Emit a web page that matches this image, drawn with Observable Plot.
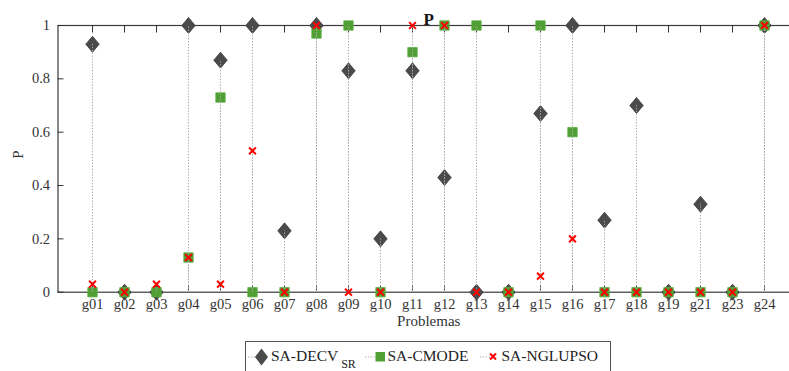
<!DOCTYPE html>
<html>
<head>
<meta charset="utf-8">
<script src="https://cdn.jsdelivr.net/npm/d3@7"></script>
<script src="https://cdn.jsdelivr.net/npm/@observablehq/plot@0.6"></script>
<style>
  html, body { margin: 0; padding: 0; background: #fff; overflow: hidden; }
  #chart { position: relative; width: 789px; height: 371px; overflow: hidden; font-family: "Liberation Serif", serif; }
  #chart svg.plot { position: absolute; left: 0; top: 0; max-width: none !important; }
  #chart svg.plot text { font-family: "Liberation Serif", serif; }
  #legend { position: absolute; left: 245px; top: 341px; }
  #legend text { font-family: "Liberation Serif", serif; }
</style>
</head>
<body>
<div id="chart"></div>
<script>
// Problems on the x axis
const categories = ["g01","g02","g03","g04","g05","g06","g07","g08","g09","g10","g11",
                    "g12","g13","g14","g15","g16","g17","g18","g19","g21","g23","g24"];

// Success rate P per algorithm
const decvSR  = [0.93,0,0,1,0.87,1,0.23,1,0.83,0.20,0.83,0.43,0,0,0.67,1,0.27,0.70,0,0.33,0,1];
const cmode   = [0,0,0,0.13,0.73,0,0,0.97,1,0,0.90,1,1,0,1,0.60,0,0,0,0,0,1];
const nglupso = [0.03,0,0.03,0.13,0.03,0.53,0,1,0,0,1,1,0,0,0.06,0.20,0,0,0,0,0,1];

const yTicks = [0, 0.2, 0.4, 0.6, 0.8, 1];
const seriesNames = ["SA-DECV", "SA-CMODE", "SA-NGLUPSO"];
const titleText = "P";
const xLabel = "Problemas";
const yLabel = "P";

const rowsOf = (vals, name) => categories.map((c, i) => ({problem: c, p: vals[i], series: name}));
const rowsDecv = rowsOf(decvSR, seriesNames[0]);
const rowsCmode = rowsOf(cmode, seriesNames[1]);
const rowsNg = rowsOf(nglupso, seriesNames[2]);

// Diamond slightly taller than wide
const tallDiamond = {
  draw(ctx, size) {
    const h = Math.sqrt(size / Math.PI);
    const w = h * 0.84;
    ctx.moveTo(0, -h); ctx.lineTo(w, 0); ctx.lineTo(0, h); ctx.lineTo(-w, 0); ctx.closePath();
  }
};

const W = 799, H = 340, mL = 57.5, mT = 25, mB = 48.3;
const plotH = H - mT - mB;
const plotW = W - mL;

const font = "Liberation Serif, serif";
const diamondFill = "#4a4a4a";
const green = "#4f9f34";
const red = "#ff0000";
const stemStyle = {stroke: "#a8a8a8", strokeWidth: 1, strokeDasharray: "1.3,1.6"};

const stems = rows => Plot.ruleX(rows, {x: "problem", y1: 0, y2: "p", ...stemStyle});

const chart = Plot.plot({
  width: W, height: H,
  marginLeft: mL, marginRight: 0, marginTop: mT, marginBottom: mB,
  x: {type: "point", domain: categories, padding: 1},
  y: {domain: [0, 1]},
  style: {fontFamily: font, fontSize: "14.5px", color: "#333", background: "transparent", overflow: "visible", maxWidth: "none"},
  marks: [
    Plot.frame({stroke: "#3a3a3a", strokeWidth: 1.2}),
    // inward ticks
    Plot.tickX(categories, {x: d => d, insetBottom: plotH - 7.5, stroke: "#333"}),
    Plot.tickX(categories, {x: d => d, insetTop: plotH - 6, stroke: "#333"}),
    Plot.tickY(yTicks, {y: d => d, insetRight: plotW - 6, stroke: "#333"}),
    Plot.axisX({tickSize: 0, tickPadding: 7, label: null, fontSize: 14.5, fill: "#333"}),
    Plot.axisY({ticks: yTicks, tickSize: 0, tickPadding: 8, tickFormat: d => String(d), label: null, fontSize: 14.5, fill: "#333"}),
    // markers and stems
    Plot.dot(rowsDecv, {x: "problem", y: "p", symbol: tallDiamond, r: 8, fill: diamondFill, stroke: "#3c3c3c", strokeWidth: 0.8}),
    Plot.dot(rowsCmode, {x: "problem", y: "p", symbol: "square", r: 5.3, fill: green, stroke: "#5cae42", strokeWidth: 0.8}),
    stems(rowsDecv),
    stems(rowsCmode),
    stems(rowsNg),
    Plot.dot(rowsNg, {x: "problem", y: "p", symbol: "times", r: 3.2, stroke: red, strokeWidth: 2}),
    // title and axis labels
    Plot.text([titleText], {frameAnchor: "top", dy: -12.5, fontWeight: "bold", fontSize: 17, fill: "#111"}),
    Plot.text([xLabel], {frameAnchor: "bottom", dy: 34, fontSize: 15, fill: "#333"}),
    Plot.text([yLabel], {frameAnchor: "left", dx: -39.5, rotate: -90, fontSize: 15, fill: "#333"})
  ]
});
chart.classList.add("plot");
chart.setAttribute("width", W);
document.getElementById("chart").appendChild(chart);

// Legend box below the plot
const lg = d3.select("#chart").append("svg")
  .attr("id", "legend").attr("width", 367).attr("height", 40);
lg.append("rect").attr("x", 0.5).attr("y", 0.5).attr("width", 365).attr("height", 45)
  .attr("fill", "#fff").attr("stroke", "#555").attr("stroke-width", 1);

const cy = 16;
const dotted = (x1, x2) => lg.append("line").attr("x1", x1).attr("x2", x2).attr("y1", cy).attr("y2", cy)
  .attr("stroke", "#aaa").attr("stroke-dasharray", "1.3,1.6");

// SA-DECV_SR
dotted(3, 12);
lg.append("path").attr("d", "M16.5,7.5L23,16L16.5,24.5L10,16Z").attr("fill", diamondFill);
const t1 = lg.append("text").attr("x", 26).attr("y", 19.5).attr("font-size", 15.5).attr("fill", "#222").text(seriesNames[0]);
t1.append("tspan").attr("dx", 3).attr("dy", 7).attr("font-size", 12).text("SR");

// SA-CMODE
dotted(120, 131);
lg.append("rect").attr("x", 130.5).attr("y", 11).attr("width", 9.5).attr("height", 9.5).attr("fill", green);
lg.append("text").attr("x", 142.5).attr("y", 19.5).attr("font-size", 15.5).attr("fill", "#222").text(seriesNames[1]);

// SA-NGLUPSO
dotted(235, 245);
lg.append("path").attr("d", "M245,12.5L251,18.5M251,12.5L245,18.5").attr("stroke", red).attr("stroke-width", 2);
lg.append("text").attr("x", 256.5).attr("y", 19.5).attr("font-size", 15.5).attr("fill", "#222").text(seriesNames[2]);
</script>
</body>
</html>
